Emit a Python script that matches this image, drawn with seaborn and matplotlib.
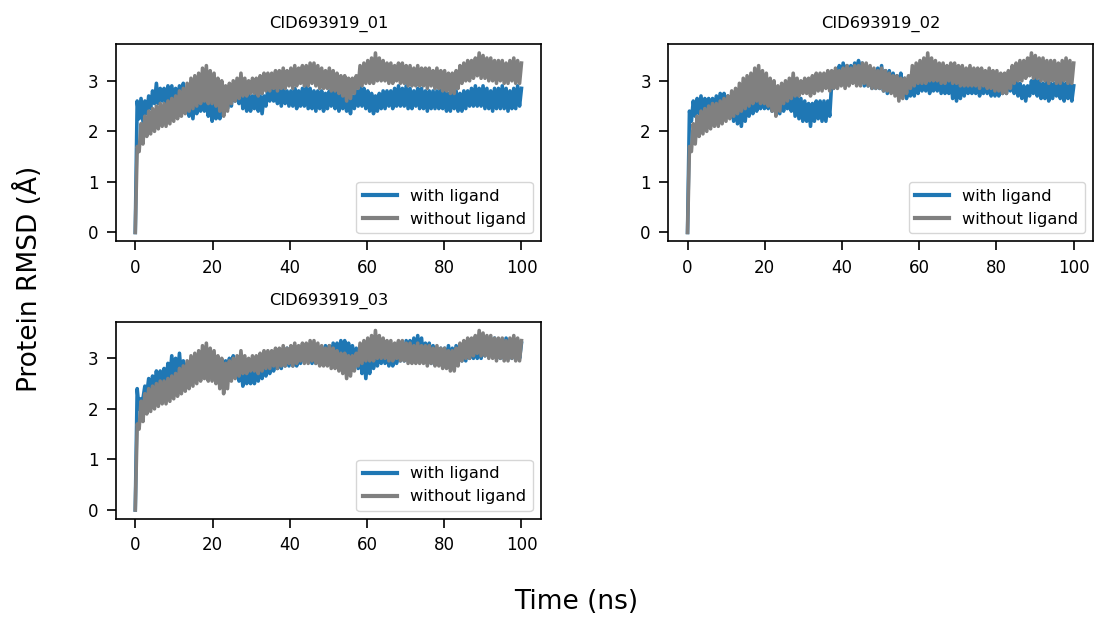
import numpy as np
import pandas as pd
import matplotlib
matplotlib.use("Agg")
import matplotlib.pyplot as plt
import seaborn as sns

plt.rcParams["font.family"] = ["DejaVu Sans"]

titles = ["CID693919_01", "CID693919_02", "CID693919_03"]
series_labels = ["with ligand", "without ligand"]
series_colors = ["#1f77b4", "#808080"]

# RMSD read every 1 ns (0..100 ns): lower and upper edge of each fluctuating trace
apo_lo = [0.0, 1.6, 1.75, 1.9, 1.95, 2.0, 2.05, 2.1, 2.1, 2.15,
          2.2, 2.25, 2.3, 2.35, 2.4, 2.45, 2.5, 2.55, 2.6, 2.55,
          2.55, 2.5, 2.4, 2.3, 2.4, 2.55, 2.6, 2.65, 2.7, 2.7,
          2.75, 2.75, 2.7, 2.75, 2.8, 2.8, 2.85, 2.8, 2.85, 2.85,
          2.9, 2.85, 2.9, 2.95, 2.9, 2.9, 2.95, 2.9, 2.85, 2.85,
          2.85, 2.8, 2.8, 2.75, 2.7, 2.6, 2.65, 2.75, 2.85, 2.9,
          2.95, 2.95, 2.95, 3.0, 3.0, 3.0, 2.95, 2.95, 3.0, 2.95,
          2.95, 2.9, 2.9, 2.9, 2.9, 2.9, 2.85, 2.9, 2.85, 2.85,
          2.8, 2.8, 2.75, 2.75, 2.85, 2.95, 3.0, 3.0, 3.05, 3.1,
          3.05, 3.05, 3.0, 3.0, 2.95, 3.0, 2.95, 2.95, 3.0, 2.95, 2.95]
apo_hi = [1.7, 2.15, 2.3, 2.4, 2.45, 2.5, 2.55, 2.55, 2.6, 2.65,
          2.7, 2.8, 2.85, 2.95, 3.05, 3.1, 3.15, 3.25, 3.3, 3.2,
          3.15, 3.05, 3.0, 2.9, 2.95, 3.0, 3.05, 3.15, 3.05, 3.0,
          3.05, 3.05, 3.1, 3.15, 3.15, 3.15, 3.2, 3.2, 3.25, 3.2,
          3.25, 3.3, 3.25, 3.3, 3.3, 3.35, 3.35, 3.3, 3.25, 3.2,
          3.25, 3.2, 3.15, 3.1, 3.1, 3.05, 3.05, 3.1, 3.3, 3.35,
          3.4, 3.45, 3.55, 3.45, 3.4, 3.35, 3.35, 3.3, 3.35, 3.35,
          3.3, 3.3, 3.25, 3.3, 3.25, 3.25, 3.25, 3.2, 3.25, 3.2,
          3.2, 3.15, 3.15, 3.2, 3.3, 3.35, 3.4, 3.4, 3.45, 3.55,
          3.5, 3.45, 3.45, 3.4, 3.4, 3.4, 3.35, 3.4, 3.45, 3.4, 3.35]

lig1_lo = [0.0, 2.25, 2.2, 2.35, 2.45, 2.55, 2.55, 2.6, 2.55, 2.6,
           2.6, 2.6, 2.6, 2.45, 2.3, 2.25, 2.35, 2.4, 2.4, 2.3,
           2.2, 2.25, 2.25, 2.35, 2.45, 2.5, 2.6, 2.55, 2.45, 2.4,
           2.4, 2.45, 2.4, 2.35, 2.5, 2.6, 2.6, 2.55, 2.5, 2.55,
           2.5, 2.5, 2.45, 2.5, 2.5, 2.45, 2.45, 2.4, 2.45, 2.4,
           2.45, 2.5, 2.45, 2.4, 2.45, 2.4, 2.35, 2.45, 2.5, 2.5,
           2.45, 2.4, 2.35, 2.4, 2.45, 2.45, 2.5, 2.45, 2.5, 2.5,
           2.5, 2.45, 2.45, 2.5, 2.45, 2.45, 2.4, 2.45, 2.45, 2.45,
           2.45, 2.4, 2.4, 2.45, 2.4, 2.4, 2.45, 2.5, 2.5, 2.5,
           2.5, 2.45, 2.45, 2.4, 2.45, 2.45, 2.45, 2.4, 2.45, 2.45, 2.5]
lig1_hi = [2.6, 2.65, 2.6, 2.7, 2.8, 2.95, 2.85, 2.85, 2.9, 2.9,
           2.85, 2.9, 2.95, 2.8, 2.7, 2.65, 2.6, 2.65, 2.7, 2.65,
           2.55, 2.6, 2.65, 2.7, 2.8, 2.9, 3.0, 2.9, 2.8, 2.75,
           2.7, 2.75, 2.7, 2.7, 2.85, 2.95, 2.9, 2.85, 2.85, 2.8,
           2.8, 2.85, 2.8, 2.85, 2.9, 2.85, 2.8, 2.8, 2.8, 2.75,
           2.8, 2.85, 2.8, 2.75, 2.8, 2.75, 2.7, 2.8, 2.9, 2.85,
           2.8, 2.75, 2.7, 2.75, 2.8, 2.8, 2.8, 2.85, 2.9, 2.85,
           2.9, 2.85, 2.8, 2.85, 2.85, 2.8, 2.8, 2.8, 2.8, 2.85,
           2.8, 2.75, 2.75, 2.8, 2.75, 2.8, 2.8, 2.85, 2.9, 2.85,
           2.9, 2.85, 2.8, 2.85, 2.85, 2.9, 2.85, 2.8, 2.85, 2.9, 2.85]

lig2_lo = [0.0, 2.2, 2.3, 2.35, 2.35, 2.4, 2.4, 2.45, 2.45, 2.45,
           2.4, 2.3, 2.2, 2.15, 2.1, 2.2, 2.3, 2.35, 2.4, 2.45,
           2.45, 2.45, 2.4, 2.35, 2.35, 2.4, 2.45, 2.4, 2.3, 2.25,
           2.2, 2.2, 2.1, 2.2, 2.25, 2.2, 2.2, 2.3, 2.85, 2.95,
           3.0, 3.0, 3.0, 3.0, 3.05, 2.95, 2.9, 2.9, 2.85, 2.85,
           2.85, 2.8, 2.75, 2.8, 2.8, 2.8, 2.7, 2.65, 2.7, 2.7,
           2.75, 2.8, 2.8, 2.75, 2.8, 2.8, 2.75, 2.75, 2.75, 2.65,
           2.6, 2.65, 2.7, 2.75, 2.75, 2.75, 2.7, 2.75, 2.75, 2.7,
           2.7, 2.7, 2.75, 2.75, 2.8, 2.75, 2.7, 2.65, 2.6, 2.7,
           2.75, 2.7, 2.65, 2.65, 2.6, 2.65, 2.7, 2.65, 2.6, 2.65, 2.6]
lig2_hi = [2.4, 2.6, 2.65, 2.7, 2.65, 2.65, 2.65, 2.7, 2.75, 2.75,
           2.7, 2.65, 2.6, 2.55, 2.5, 2.55, 2.6, 2.7, 2.75, 2.75,
           2.75, 2.8, 2.75, 2.7, 2.7, 2.8, 2.8, 2.75, 2.7, 2.65,
           2.6, 2.55, 2.55, 2.6, 2.6, 2.6, 2.6, 2.95, 3.2, 3.3,
           3.35, 3.3, 3.3, 3.35, 3.4, 3.35, 3.3, 3.25, 3.2, 3.25,
           3.3, 3.2, 3.2, 3.15, 3.1, 3.15, 3.05, 3.0, 3.0, 3.05,
           3.1, 3.15, 3.1, 3.05, 3.1, 3.05, 3.05, 3.0, 3.05, 2.95,
           2.95, 3.0, 3.0, 3.05, 3.0, 3.05, 3.0, 3.1, 3.1, 3.0,
           2.95, 3.0, 3.05, 3.05, 3.1, 3.05, 2.95, 2.9, 2.9, 3.0,
           3.05, 3.0, 2.95, 3.0, 2.95, 2.95, 2.95, 3.0, 2.95, 2.95, 2.9]

lig3_lo = [0.0, 2.0, 2.2, 2.3, 2.35, 2.4, 2.45, 2.5, 2.55, 2.6,
           2.6, 2.65, 2.6, 2.6, 2.65, 2.7, 2.7, 2.65, 2.65, 2.7,
           2.7, 2.7, 2.65, 2.6, 2.65, 2.7, 2.65, 2.55, 2.45, 2.5,
           2.5, 2.5, 2.55, 2.6, 2.65, 2.7, 2.75, 2.8, 2.8, 2.85,
           2.85, 2.85, 2.85, 2.9, 2.95, 2.95, 2.9, 2.9, 2.9, 2.9,
           2.95, 2.95, 2.95, 3.0, 3.0, 2.95, 2.9, 2.85, 2.8, 2.7,
           2.6, 2.7, 2.8, 2.85, 2.9, 2.9, 2.85, 2.85, 2.9, 2.95,
           2.95, 2.95, 3.0, 3.0, 3.0, 2.95, 2.9, 2.9, 2.9, 2.9,
           2.9, 2.9, 2.9, 2.95, 2.95, 2.95, 2.95, 3.0, 3.0, 3.0,
           3.0, 3.05, 3.05, 3.05, 3.0, 3.0, 3.0, 3.0, 3.0, 3.05, 3.0]
lig3_hi = [2.4, 2.2, 2.45, 2.6, 2.65, 2.75, 2.75, 2.8, 2.9, 3.05,
           3.0, 3.1, 2.95, 2.9, 2.95, 3.0, 3.0, 2.95, 2.95, 2.95,
           2.95, 2.95, 2.95, 2.95, 3.0, 3.05, 2.95, 2.85, 2.8, 2.85,
           2.85, 2.8, 2.85, 2.9, 3.0, 3.05, 3.1, 3.15, 3.15, 3.2,
           3.2, 3.2, 3.15, 3.2, 3.2, 3.2, 3.2, 3.2, 3.2, 3.25,
           3.25, 3.3, 3.3, 3.35, 3.35, 3.3, 3.25, 3.2, 3.2, 3.1,
           3.05, 3.1, 3.15, 3.2, 3.2, 3.2, 3.2, 3.25, 3.3, 3.3,
           3.35, 3.35, 3.4, 3.45, 3.4, 3.3, 3.3, 3.25, 3.2, 3.2,
           3.2, 3.25, 3.2, 3.25, 3.25, 3.3, 3.3, 3.3, 3.35, 3.35,
           3.35, 3.4, 3.4, 3.4, 3.35, 3.35, 3.4, 3.35, 3.35, 3.35, 3.3]

ligand_lo = [lig1_lo, lig2_lo, lig3_lo]
ligand_hi = [lig1_hi, lig2_hi, lig3_hi]
x_ticks = [0, 20, 40, 60, 80, 100]
y_ticks = [0, 1, 2, 3]


def trace(lo, hi):
    vals = np.ravel(np.column_stack([lo, hi]))
    t = np.linspace(0, 100, len(vals))
    return pd.DataFrame({"Time": t, "RMSD": vals})


fig, axes = plt.subplots(2, 2, figsize=(10.96, 6.2), dpi=100)
fig.subplots_adjust(left=0.1058, right=0.9973, top=0.929, bottom=0.163,
                    wspace=0.30, hspace=0.406)
flat = axes.ravel()
apo_df = trace(apo_lo, apo_hi)
for i, ax in enumerate(flat[:3]):
    lig_df = trace(ligand_lo[i], ligand_hi[i])
    sns.lineplot(data=lig_df, x="Time", y="RMSD", ax=ax, color=series_colors[0],
                 lw=2.6, label=series_labels[0], estimator=None, sort=False)
    sns.lineplot(data=apo_df, x="Time", y="RMSD", ax=ax, color=series_colors[1],
                 lw=2.6, label=series_labels[1], estimator=None, sort=False)
    ax.set_title(titles[i], fontsize=11.7, pad=12)
    ax.set_xlabel("")
    ax.set_ylabel("")
    ax.set_xticks(x_ticks)
    ax.set_yticks(y_ticks)
    ax.tick_params(labelsize=12, length=6.5, width=1.2, pad=6)
    for s in ax.spines.values():
        s.set_linewidth(1.2)
    leg = ax.legend(loc="lower right", fontsize=11.7, handlelength=2.1)
    for h in leg.get_lines():
        h.set_linewidth(3)
flat[3].axis("off")

fig.supxlabel("Time (ns)", fontsize=19, x=0.526, y=0.008)
fig.supylabel("Protein RMSD (Å)", fontsize=19, x=0.013, y=0.55)
fig.savefig("out.png", dpi=100)
